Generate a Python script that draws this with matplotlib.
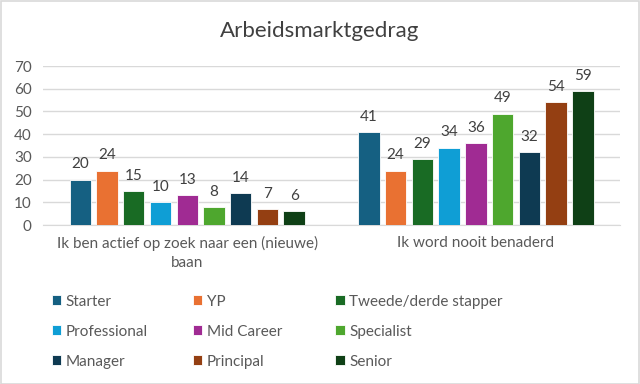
import numpy as np
import matplotlib.pyplot as plt
from matplotlib.patches import Rectangle

plt.rcParams['font.family'] = ['Lato', 'DejaVu Sans']

categories = ['Ik ben actief op zoek naar een (nieuwe)\nbaan', 'Ik word nooit benaderd']
series = ['Starter', 'YP', 'Tweede/derde stapper', 'Professional', 'Mid Career',
          'Specialist', 'Manager', 'Principal', 'Senior']
values = [
    [20, 41],
    [24, 24],
    [15, 29],
    [10, 34],
    [13, 36],
    [8, 49],
    [14, 32],
    [7, 54],
    [6, 59],
]
colors = ['#156082', '#E97132', '#196B24', '#0F9ED5', '#A02B93',
          '#4EA72E', '#0E3A52', '#943F12', '#0F4016']

fig = plt.figure(figsize=(6.4, 3.84), dpi=100)
ax = fig.add_axes([0.067, 0.414, 0.902, 0.414])

x = np.arange(len(categories))
slot = 0.834 / len(series)
handles = []
for i, name in enumerate(series):
    pos = x - 0.834 / 2 + slot * (i + 0.5)
    bars = ax.bar(pos, values[i], width=slot * 0.8, color=colors[i],
                  edgecolor='white', linewidth=0.6, label=name, zorder=3)
    ax.bar_label(bars, padding=6, fontsize=11, color='#404040')
    handles.append(bars)

ax.set_xlim(-0.5, 1.5)
ax.set_ylim(0, 70)
ax.set_yticks(range(0, 71, 10))
ax.yaxis.grid(True, color='#D9D9D9', linewidth=1, zorder=0)
ax.set_xticks(x)
ax.set_xticklabels(categories, fontsize=11, color='#595959', linespacing=1.4)
ax.tick_params(axis='y', labelsize=11, labelcolor='#595959', length=0, pad=8)
ax.tick_params(axis='x', length=0, pad=8)
for s in ['top', 'right', 'left']:
    ax.spines[s].set_visible(False)
ax.spines['bottom'].set_color('#D9D9D9')

fig.suptitle('Arbeidsmarktgedrag', y=0.945, fontsize=16, color='#404040')

# legend laid out row-wise like Excel: three single-column legends
col_x = [0.081, 0.302, 0.524]
for c in range(3):
    idx = [c, c + 3, c + 6]
    fig.legend([handles[k] for k in idx], [series[k] for k in idx],
               loc='upper left', bbox_to_anchor=(col_x[c], 0.233),
               frameon=False, fontsize=11, labelcolor='#595959',
               handlelength=0.6, handleheight=0.6, handletextpad=0.3,
               labelspacing=1.05, borderaxespad=0, borderpad=0)

fig.patches.append(Rectangle((0.001, 0.001), 0.997, 0.997, transform=fig.transFigure,
                             fill=False, edgecolor='#D9D9D9', linewidth=1.2))

fig.savefig('out.png', dpi=100)
